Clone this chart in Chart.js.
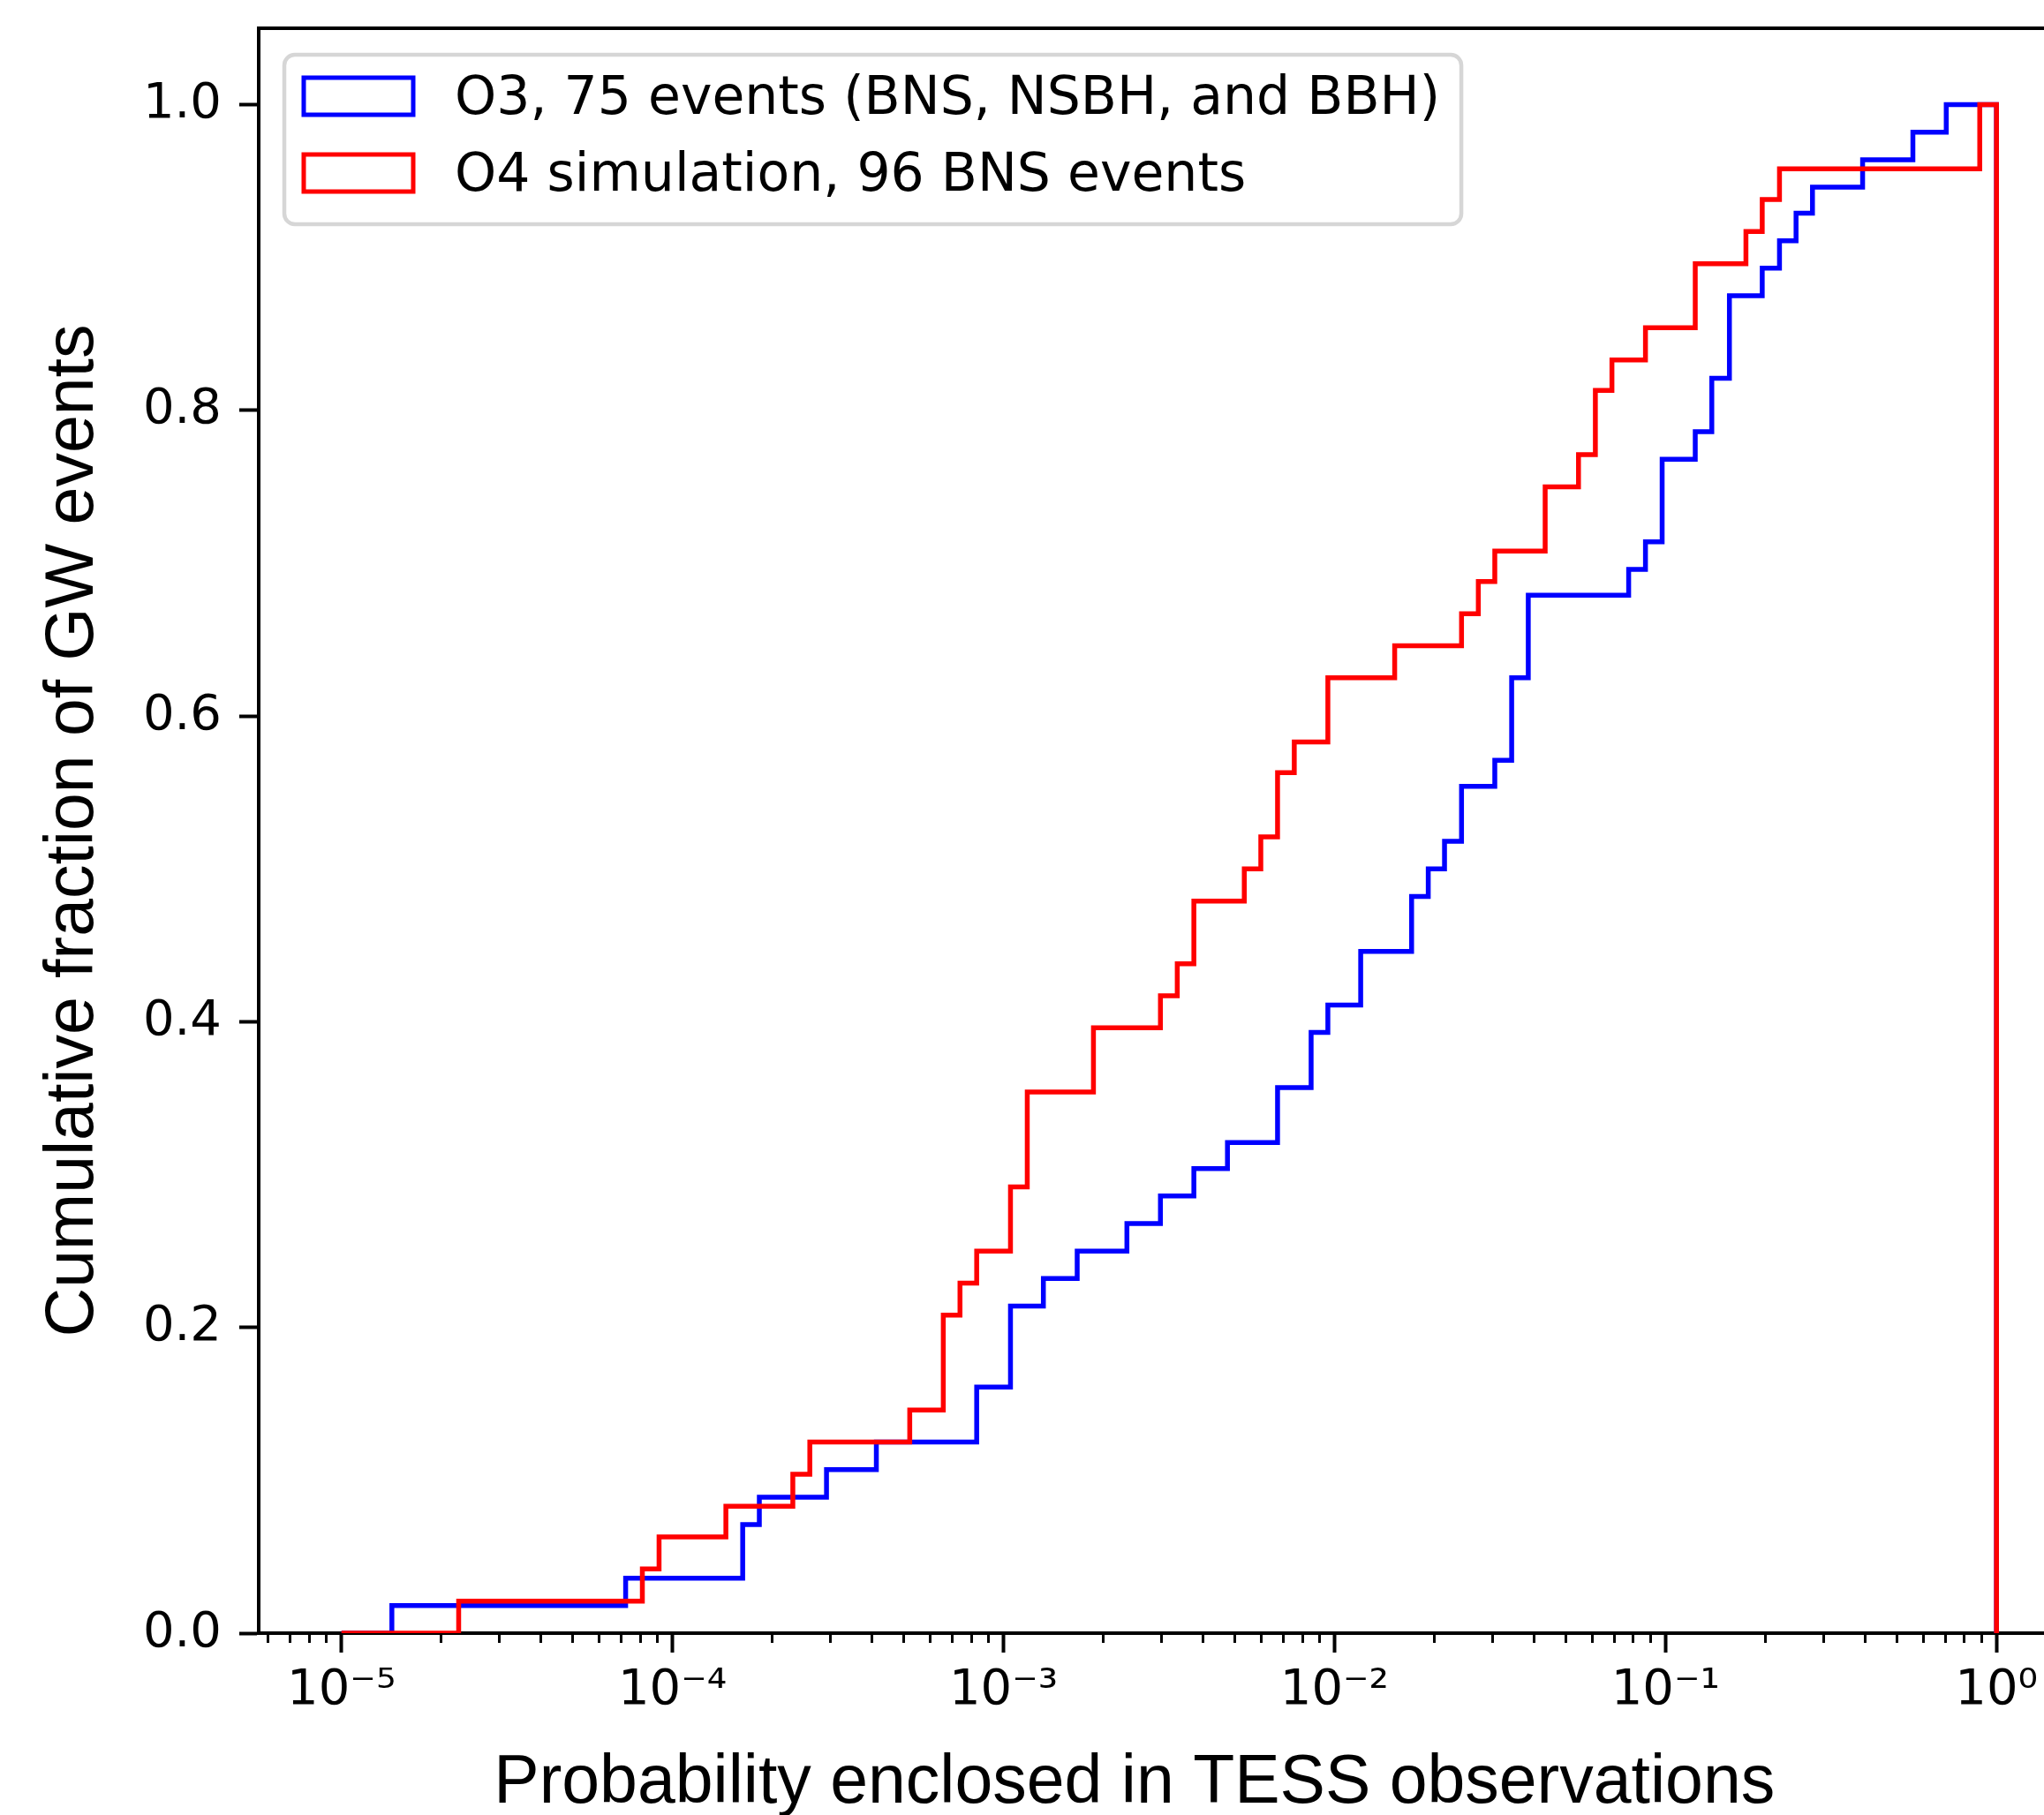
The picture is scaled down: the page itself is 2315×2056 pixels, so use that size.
<!DOCTYPE html>
<html>
<head>
<meta charset="utf-8">
<title>Cumulative fraction of GW events</title>
<script src="https://cdn.jsdelivr.net/npm/chart.js@4.4.1/dist/chart.umd.min.js"></script>
<style>
  html, body { margin: 0; padding: 0; background: #fff; overflow: hidden; }
  canvas { display: block; }
</style>
</head>
<body>
<canvas id="cdfChart" width="2315" height="2056"></canvas>
<script>
// step edges (probability enclosed) and the cumulative fraction reached at each edge
const o3Probability = [1.00e-5, 1.42e-5, 7.22e-5, 1.63e-4, 1.83e-4, 2.92e-4, 4.13e-4, 8.30e-4, 1.05e-3, 1.32e-3,
  1.67e-3, 2.36e-3, 2.98e-3, 3.76e-3, 4.75e-3, 6.73e-3, 8.50e-3, 9.55e-3, 1.20e-2, 1.71e-2,
  1.92e-2, 2.15e-2, 2.42e-2, 3.05e-2, 3.43e-2, 3.85e-2, 7.74e-2, 8.70e-2, 9.77e-2, 0.123,
  0.138, 0.156, 0.196, 0.221, 0.248, 0.278, 0.394, 0.559, 0.705, 1, 1];
const o3Fraction = [0, 0.018, 0.036, 0.071, 0.089, 0.107, 0.125, 0.161, 0.214, 0.232,
  0.250, 0.268, 0.286, 0.304, 0.321, 0.357, 0.393, 0.411, 0.446, 0.482,
  0.500, 0.518, 0.554, 0.571, 0.625, 0.679, 0.696, 0.714, 0.768, 0.786,
  0.821, 0.875, 0.893, 0.911, 0.929, 0.946, 0.964, 0.982, 1.0, 1.0, 0];

const o4Probability = [1.00e-5, 2.26e-5, 8.11e-5, 9.11e-5, 1.45e-4, 2.31e-4, 2.60e-4, 5.21e-4, 6.58e-4, 7.39e-4,
  8.30e-4, 1.05e-3, 1.18e-3, 1.87e-3, 2.98e-3, 3.35e-3, 3.76e-3, 5.34e-3, 5.99e-3, 6.73e-3,
  7.56e-3, 9.55e-3, 1.52e-2, 2.42e-2, 2.72e-2, 3.05e-2, 4.33e-2, 5.46e-2, 6.14e-2, 6.89e-2,
  8.70e-2, 0.123, 0.175, 0.196, 0.221, 0.890, 1, 1];
const o4Fraction = [0, 0.021, 0.042, 0.063, 0.083, 0.104, 0.125, 0.146, 0.208, 0.229,
  0.250, 0.292, 0.354, 0.396, 0.417, 0.438, 0.479, 0.500, 0.521, 0.563,
  0.583, 0.625, 0.646, 0.667, 0.688, 0.708, 0.750, 0.771, 0.813, 0.833,
  0.854, 0.896, 0.917, 0.938, 0.958, 1.0, 1.0, 0];

const seriesLabels = ['O3, 75 events (BNS, NSBH, and BBH)', 'O4 simulation, 96 BNS events'];

const xMajorTicks = [1e-5, 1e-4, 1e-3, 1e-2, 1e-1, 1];
const xTickLabels = ['10\u207B\u2075', '10\u207B\u2074', '10\u207B\u00B3', '10\u207B\u00B2', '10\u207B\u00B9', '10\u2070'];
const yTicks = [0, 0.2, 0.4, 0.6, 0.8, 1.0];
const yTickLabels = ['0.0', '0.2', '0.4', '0.6', '0.8', '1.0'];

const X_MIN = Math.pow(10, -5.25);
const X_MAX = Math.pow(10, 0.1435);

function toPoints(xs, ys) {
  return xs.map((x, i) => ({ x: x, y: ys[i] }));
}

// decades get long labelled ticks, 2..9 get short unlabelled ones
function buildLogTicks(scale) {
  const ticks = [];
  [1e-6].concat(xMajorTicks).forEach(d => {
    for (let m = 1; m <= 9; m++) {
      const v = m * d;
      if (v >= scale.min && v <= scale.max) {
        ticks.push({ value: v, isMajor: m === 1 });
      }
    }
  });
  scale.ticks = ticks;
}

const legendBox = {
  id: 'legendBox',
  afterDatasetsDraw(chart) {
    const ctx = chart.ctx;
    const left = 322, top = 62, bottom = 254;
    const firstRow = 109, rowGap = 87;
    const handleX = 344, handleW = 124, handleH = 42, textX = 515;

    ctx.save();
    ctx.font = '60px "DejaVu Sans"';
    const widest = Math.max(...chart.data.datasets.map(ds => ctx.measureText(ds.label).width));
    const right = textX + widest + 24;

    ctx.beginPath();
    if (ctx.roundRect) ctx.roundRect(left, top, right - left, bottom - top, 12);
    else ctx.rect(left, top, right - left, bottom - top);
    ctx.fillStyle = 'rgba(255,255,255,0.8)';
    ctx.fill();
    ctx.lineWidth = 4.5;
    ctx.strokeStyle = '#d6d6d6';
    ctx.stroke();

    chart.data.datasets.forEach((ds, i) => {
      const cy = firstRow + i * rowGap;
      ctx.lineWidth = 5;
      ctx.strokeStyle = ds.borderColor;
      ctx.strokeRect(handleX, cy - handleH / 2, handleW, handleH);
      ctx.fillStyle = '#000';
      ctx.textBaseline = 'middle';
      ctx.textAlign = 'left';
      ctx.fillText(ds.label, textX, cy + 4);
    });
    ctx.restore();
  }
};

Chart.defaults.color = '#000';
Chart.defaults.font.family = '"DejaVu Sans"';

const ctx = document.getElementById('cdfChart').getContext('2d');

new Chart(ctx, {
  type: 'line',
  data: {
    datasets: [
      {
        label: seriesLabels[0],
        data: toPoints(o3Probability, o3Fraction),
        borderColor: '#0000ff',
        order: 2
      },
      {
        label: seriesLabels[1],
        data: toPoints(o4Probability, o4Fraction),
        borderColor: '#ff0000',
        order: 1
      }
    ]
  },
  options: {
    responsive: false,
    animation: false,
    devicePixelRatio: 1,
    layout: { padding: { top: 32, left: 0, right: 0, bottom: 0 } },
    elements: {
      line: { borderWidth: 5.5, stepped: true, fill: false, tension: 0, borderJoinStyle: 'miter' },
      point: { radius: 0, hoverRadius: 0 }
    },
    plugins: {
      legend: { display: false },
      tooltip: { enabled: false }
    },
    scales: {
      x: {
        type: 'logarithmic',
        position: 'bottom',
        min: X_MIN,
        max: X_MAX,
        afterBuildTicks: buildLogTicks,
        afterFit: function (scale) {
          scale.height = 206;
          scale.paddingLeft = 0;
          scale.paddingRight = 0;
        },
        border: { display: true, color: '#000', width: 4 },
        grid: {
          drawOnChartArea: false,
          drawTicks: true,
          tickLength: 22,
          tickColor: '#000',
          tickWidth: c => (c.tick && c.tick.isMajor ? 4 : 3),
          tickBorderDash: c => (c.tick && c.tick.isMajor ? [] : [9, 1000])
        },
        ticks: {
          autoSkip: false,
          maxRotation: 0,
          minRotation: 0,
          padding: 10,
          font: { family: '"DejaVu Sans"', size: 56 },
          callback: function (value, index, ticks) {
            const i = xMajorTicks.indexOf(ticks[index].value);
            return i >= 0 ? xTickLabels[i] : '';
          }
        },
        title: {
          display: true,
          // trailing en space nudges the centred label left, as in the original figure
          text: 'Probability enclosed in TESS observations\u2002',
          color: '#000',
          font: { family: '"Liberation Sans", Arial', size: 77, lineHeight: 0.92 },
          padding: { top: 0, bottom: 0 }
        }
      },
      xTop: {
        type: 'logarithmic',
        position: 'top',
        min: X_MIN,
        max: X_MAX,
        afterFit: function (scale) {
          scale.height = 0;
          scale.paddingLeft = 0;
          scale.paddingRight = 0;
        },
        border: { display: true, color: '#000', width: 4 },
        grid: { drawOnChartArea: false, drawTicks: false },
        ticks: { display: false }
      },
      y: {
        type: 'linear',
        position: 'left',
        min: 0,
        max: 1.05,
        afterBuildTicks: function (scale) {
          scale.ticks = yTicks.map(v => ({ value: v }));
        },
        afterFit: function (scale) {
          scale.width = 293;
          scale.paddingTop = 0;
          scale.paddingBottom = 0;
        },
        border: { display: true, color: '#000', width: 4 },
        grid: {
          drawOnChartArea: false,
          drawTicks: true,
          tickLength: 22,
          tickColor: '#000',
          tickWidth: 4
        },
        ticks: {
          padding: 20,
          font: { family: '"DejaVu Sans"', size: 56 },
          callback: function (value, index) {
            return yTickLabels[index];
          }
        },
        title: {
          display: true,
          text: 'Cumulative fraction of GW events',
          color: '#000',
          font: { family: '"Liberation Sans", Arial', size: 77, lineHeight: 1.2 },
          padding: { top: 38, bottom: 0 }
        }
      }
    }
  },
  plugins: [legendBox]
});
</script>
</body>
</html>
